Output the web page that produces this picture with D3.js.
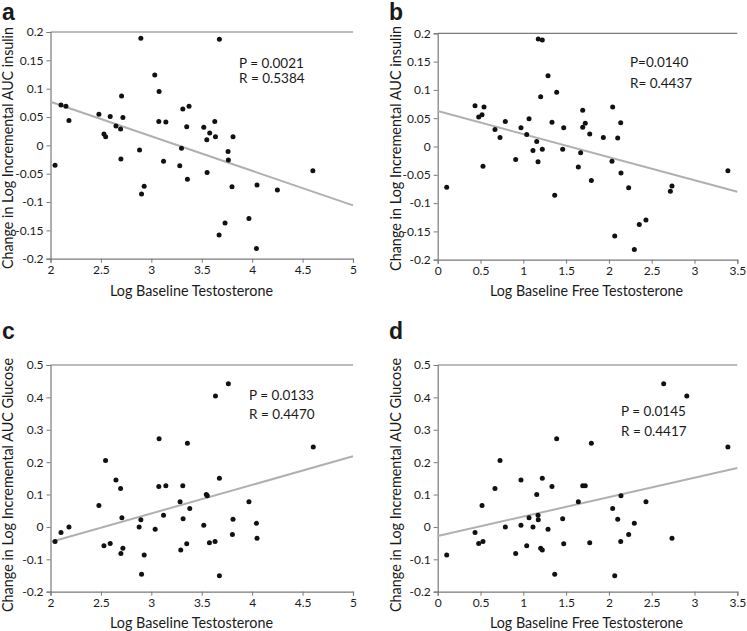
<!DOCTYPE html>
<html><head><meta charset="utf-8">
<script src="https://cdn.jsdelivr.net/npm/d3@7"></script>
<style>
html,body{margin:0;padding:0;background:#fff;}
svg{display:block;}
text{font-family:Lato,"Open Sans",sans-serif;fill:#1a1a1a;}
</style></head>
<body>
<svg id="chart" width="747" height="631"></svg>
<script>
// ---------- DATA ----------
// Panel a: Log baseline testosterone vs change in log incremental AUC insulin
const aTestosterone = [2.896,3.034,3.077,2.705,2.104,2.153,2.183,2.48,2.592,2.718,2.649,2.695,2.53,2.547,3.074,3.144,3.312,3.374,3.351,3.675,3.52,3.629,3.579,3.636,3.81,3.55,2.045,2.698,2.883,2.929,2.903,3.121,3.282,3.299,3.358,3.761,3.764,3.553,3.80,4.048,4.25,4.602,3.968,3.731,3.672,4.042];
const aInsulin      = [0.189,0.124,0.095,0.087,0.071,0.069,0.044,0.055,0.051,0.049,0.034,0.029,0.020,0.015,0.042,0.041,0.064,0.069,0.033,0.187,0.032,0.042,0.022,0.015,0.015,0.010,-0.035,-0.024,-0.008,-0.072,-0.086,-0.028,-0.036,-0.005,-0.060,-0.011,-0.026,-0.048,-0.073,-0.070,-0.079,-0.045,-0.129,-0.137,-0.158,-0.182];
// Panel b: Log baseline free testosterone vs change in log incremental AUC insulin
const bFreeT   = [1.175,1.222,1.289,1.39,1.203,0.436,0.541,0.479,0.518,0.790,1.067,1.335,0.669,0.973,0.728,1.04,1.694,2.044,1.724,1.694,1.472,2.138,1.776,1.935,2.103,0.105,0.529,0.911,1.157,1.113,1.222,1.172,1.367,1.46,1.67,1.643,2.036,2.141,1.795,2.231,2.737,2.718,2.433,2.355,2.068,2.297,3.39];
const bInsulin = [0.190,0.188,0.125,0.096,0.088,0.072,0.070,0.052,0.056,0.044,0.049,0.043,0.030,0.033,0.016,0.021,0.064,0.070,0.041,0.034,0.033,0.042,0.022,0.016,0.015,-0.072,-0.035,-0.023,0.009,-0.007,-0.005,-0.027,-0.086,-0.005,-0.011,-0.036,-0.026,-0.047,-0.060,-0.073,-0.070,-0.079,-0.130,-0.138,-0.158,-0.182,-0.043];
// Panel c: Log baseline testosterone vs change in log incremental AUC glucose
const cTestosterone = [2.546,3.077,3.358,3.764,3.636,4.606,2.649,2.695,2.48,3.074,3.144,3.312,3.285,3.381,3.121,3.315,2.708,2.896,2.879,3.038,2.045,2.104,2.183,2.53,2.592,2.698,2.718,2.929,2.903,3.292,3.351,3.675,3.545,3.555,3.968,3.52,3.81,4.042,3.804,4.048,3.576,3.632,3.675];
const cGlucose      = [0.205,0.272,0.258,0.442,0.404,0.247,0.145,0.119,0.066,0.125,0.127,0.127,0.078,0.057,0.036,0.025,0.028,0.022,0.000,-0.007,-0.045,-0.017,0.000,-0.058,-0.051,-0.082,-0.066,-0.087,-0.146,-0.071,-0.052,0.150,0.100,0.096,0.078,0.005,0.024,0.011,-0.023,-0.035,-0.049,-0.045,-0.151];
// Panel d: Log baseline free testosterone vs change in log incremental AUC glucose
const dFreeT   = [0.728,1.39,1.795,2.64,2.91,3.39,0.973,0.669,0.518,1.335,1.724,1.694,1.643,2.044,1.172,1.46,1.067,1.175,1.113,1.289,0.529,0.436,0.790,1.04,0.479,0.911,1.203,0.105,1.367,1.222,1.472,1.222,1.157,2.141,2.433,0.973,2.103,2.297,2.231,2.737,1.776,2.138,2.068];
const dGlucose = [0.205,0.272,0.258,0.442,0.404,0.247,0.145,0.119,0.066,0.125,0.127,0.127,0.078,0.057,0.036,0.025,0.028,0.022,0.000,-0.007,-0.045,-0.017,0.000,-0.058,-0.051,-0.082,-0.066,-0.087,-0.146,-0.071,-0.052,0.150,0.100,0.096,0.078,0.005,0.024,0.011,-0.023,-0.035,-0.049,-0.045,-0.151];

// Regression lines (endpoints at axis limits)
const aFitX = [2, 5],   aFitY = [0.077, -0.106];
const bFitX = [0, 3.5], bFitY = [0.0627, -0.080];
const cFitX = [2, 5],   cFitY = [-0.0466, 0.218];
const dFitX = [0, 3.5], dFitY = [-0.028, 0.182];

// Tick values and labels
const totalTTicks  = [2, 2.5, 3, 3.5, 4, 4.5, 5];
const totalTLabels = ["2","2.5","3","3.5","4","4.5","5"];
const freeTTicks   = [0, 0.5, 1, 1.5, 2, 2.5, 3, 3.5];
const freeTLabels  = ["0","0.5","1","1.5","2","2.5","3","3.5"];
const insulinTicks  = [-0.2,-0.15,-0.1,-0.05,0,0.05,0.1,0.15,0.2];
const insulinLabels = ["-0.2","-0.15","-0.1","-0.05","0","0.05","0.1","0.15","0.2"];
const glucoseTicks  = [-0.2,-0.1,0,0.1,0.2,0.3,0.4,0.5];
const glucoseLabels = ["-0.2","-0.1","0","0.1","0.2","0.3","0.4","0.5"];

const panelLetters = ["a","b","c","d"];
const statP = ["P = 0.0021","P=0.0140","P = 0.0133","P = 0.0145"];
const statR = ["R = 0.5384","R= 0.4437","R = 0.4470","R = 0.4417"];
const xTitles = ["Log Baseline Testosterone","Log Baseline Free Testosterone","Log Baseline Testosterone","Log Baseline Free Testosterone"];
const yTitles = ["Change in Log Incremental AUC insulin","Change in Log Incremental AUC insulin","Change in Log Incremental AUC Glucose","Change in Log Incremental AUC Glucose"];

// ---------- LAYOUT ----------
const svg = d3.select("#chart");
const panels = [
  {xs:aTestosterone, ys:aInsulin, fx:aFitX, fy:aFitY, xd:[2,5], yd:[-0.2,0.2], xr:[50.5,353], yr:[258.7,32],
   xt:totalTTicks, xl:totalTLabels, yt:insulinTicks, yl:insulinLabels,
   letter:[2,19.5], stat:[239,67.5,82.7], yTitle:[13,148,242], xTitle:[191.5,296,163]},
  {xs:bFreeT, ys:bInsulin, fx:bFitX, fy:bFitY, xd:[0,3.5], yd:[-0.2,0.2], xr:[437.7,737.3], yr:[259.7,33.3],
   xt:freeTTicks, xl:freeTLabels, yt:insulinTicks, yl:insulinLabels,
   letter:[389,19.5], stat:[630,66.7,88.3], yTitle:[400.5,148.5,245], xTitle:[586.5,296,193]},
  {xs:cTestosterone, ys:cGlucose, fx:cFitX, fy:cFitY, xd:[2,5], yd:[-0.2,0.5], xr:[50.5,353], yr:[591.7,365],
   xt:totalTTicks, xl:totalTLabels, yt:glucoseTicks, yl:glucoseLabels,
   letter:[2,338.5], stat:[249,400,419.3], yTitle:[13,485,254], xTitle:[191.5,628.3,163]},
  {xs:dFreeT, ys:dGlucose, fx:dFitX, fy:dFitY, xd:[0,3.5], yd:[-0.2,0.5], xr:[437.7,737.3], yr:[591.7,365],
   xt:freeTTicks, xl:freeTLabels, yt:glucoseTicks, yl:glucoseLabels,
   letter:[389,338.5], stat:[621,416,436], yTitle:[400.5,485,254], xTitle:[586.5,628.3,193]}
];

const axisColor = "#7a7a7a";

panels.forEach((p, i) => {
  const x = d3.scaleLinear().domain(p.xd).range(p.xr);
  const y = d3.scaleLinear().domain(p.yd).range(p.yr);
  const g = svg.append("g");

  // top frame line
  g.append("line").attr("x1", p.xr[0]).attr("x2", p.xr[1])
    .attr("y1", p.yr[1]).attr("y2", p.yr[1])
    .attr("stroke", axisColor).attr("stroke-width", 1.2);

  // axes
  const xAxis = d3.axisBottom(x).tickValues(p.xt).tickSize(4).tickPadding(3)
    .tickFormat((d, k) => p.xl[k]);
  const yAxis = d3.axisLeft(y).tickValues(p.yt).tickSize(4).tickPadding(3)
    .tickFormat((d, k) => p.yl[k]);
  const gx = g.append("g").attr("transform", `translate(0,${p.yr[0]})`).call(xAxis);
  const gy = g.append("g").attr("transform", `translate(${p.xr[0]},0)`).call(yAxis);
  [gx, gy].forEach(ax => {
    ax.select(".domain").attr("stroke", axisColor).attr("stroke-width", 1.2);
    ax.selectAll(".tick line").attr("stroke", axisColor).attr("stroke-width", 1);
    ax.selectAll(".tick text").attr("font-family", "Lato, 'Open Sans', sans-serif")
      .attr("font-size", 12).attr("fill", "#222");
  });

  // regression line
  g.append("line")
    .attr("x1", x(p.fx[0])).attr("y1", y(p.fy[0]))
    .attr("x2", x(p.fx[1])).attr("y2", y(p.fy[1]))
    .attr("stroke", "#b0b0b0").attr("stroke-width", 2);

  // points
  g.append("g").selectAll("circle").data(p.xs.map((v, k) => [v, p.ys[k]]))
    .join("circle")
    .attr("cx", d => x(d[0])).attr("cy", d => y(d[1]))
    .attr("r", 2.5).attr("fill", "#111");

  // stats text
  g.append("text").attr("x", p.stat[0]).attr("y", p.stat[1])
    .attr("font-size", 13.5).text(statP[i]);
  g.append("text").attr("x", p.stat[0]).attr("y", p.stat[2])
    .attr("font-size", 13.5).text(statR[i]);

  // panel letter
  g.append("text").attr("x", p.letter[0]).attr("y", p.letter[1])
    .style("font-family", "'Liberation Sans', Arial, sans-serif")
    .attr("font-weight", "bold").attr("font-size", 23)
    .attr("fill", "#111").text(panelLetters[i]);

  // axis titles
  g.append("text").attr("x", p.xTitle[0]).attr("y", p.xTitle[1])
    .attr("text-anchor", "middle").attr("font-size", 14.5)
    .attr("textLength", p.xTitle[2]).attr("lengthAdjust", "spacingAndGlyphs")
    .text(xTitles[i]);
  g.append("text").attr("transform", `translate(${p.yTitle[0]},${p.yTitle[1]}) rotate(-90)`)
    .attr("text-anchor", "middle").attr("font-size", 14.5)
    .attr("textLength", p.yTitle[2]).attr("lengthAdjust", "spacingAndGlyphs")
    .text(yTitles[i]);
});
</script>
</body></html>
